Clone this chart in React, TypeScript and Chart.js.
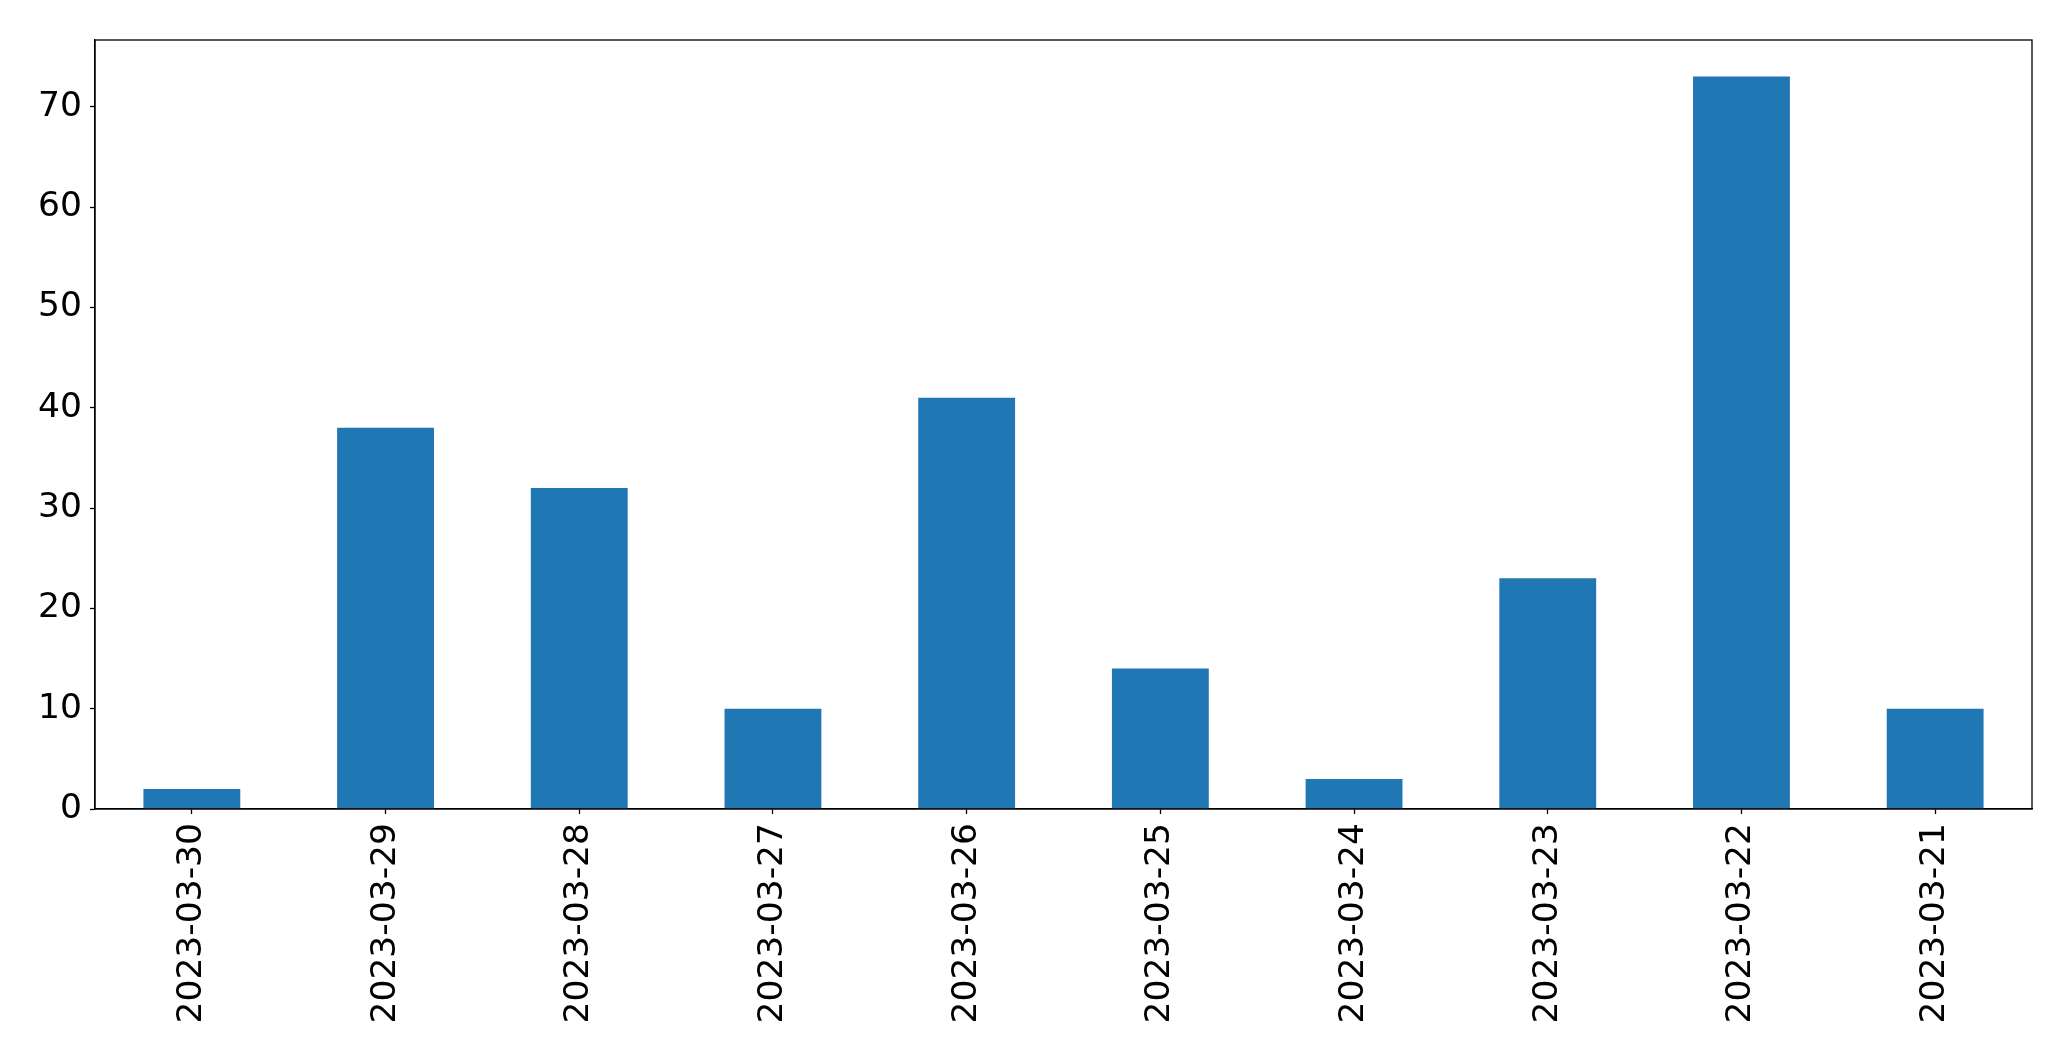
import React, { useEffect, useRef } from "react";
import { Chart, registerables } from "chart.js";

Chart.register(...registerables);

const categories = [
  "2023-03-30",
  "2023-03-29",
  "2023-03-28",
  "2023-03-27",
  "2023-03-26",
  "2023-03-25",
  "2023-03-24",
  "2023-03-23",
  "2023-03-22",
  "2023-03-21",
];
const counts = [2, 38, 32, 10, 41, 14, 3, 23, 73, 10];
const yTickValues = [0, 10, 20, 30, 40, 50, 60, 70];
const yMax = 76.65;

const W = 2071;
const H = 1061;

const framePlugin = {
  id: "frame",
  afterDatasetsDraw(chart: any) {
    const { ctx, chartArea } = chart;
    ctx.save();
    ctx.strokeStyle = "#000";
    ctx.lineWidth = 1.3;
    ctx.strokeRect(chartArea.left, chartArea.top, chartArea.right - chartArea.left, chartArea.bottom - chartArea.top);
    ctx.restore();
  },
};

export default function App() {
  const ref = useRef<HTMLCanvasElement | null>(null);
  useEffect(() => {
    document.body.style.margin = "0";
    const canvas = ref.current!;
    const font = { family: "'DejaVu Sans', sans-serif", size: 34.5 };
    const chart = new Chart(canvas, {
      type: "bar",
      data: {
        labels: categories,
        datasets: [
          {
            data: counts,
            backgroundColor: "#1f77b4",
            borderWidth: 0,
            categoryPercentage: 1,
            barPercentage: 0.5,
          },
        ],
      },
      options: {
        responsive: false,
        animation: false,
        devicePixelRatio: 1,
        layout: { padding: { left: 0, top: 40, right: 39, bottom: 0 } },
        plugins: { legend: { display: false }, tooltip: { enabled: false } },
        scales: {
          x: {
            grid: { display: true, offset: false, drawOnChartArea: false, drawTicks: true, tickLength: 5, tickColor: "#000", tickWidth: 1.3 },
            border: { display: true, color: "#000", width: 1.3 },
            ticks: { color: "#000", font, maxRotation: 90, minRotation: 90, padding: 9, autoSkip: false },
            afterFit: (scale: any) => {
              scale.height = 252;
            },
          },
          y: {
            min: 0,
            max: yMax,
            grid: { display: true, drawOnChartArea: false, drawTicks: true, tickLength: 5, tickColor: "#000", tickWidth: 1.3 },
            border: { display: true, color: "#000", width: 1.3 },
            ticks: { color: "#000", font, padding: 8 },
            afterBuildTicks: (scale: any) => {
              scale.ticks = yTickValues.map((v) => ({ value: v }));
            },
            afterFit: (scale: any) => {
              scale.width = 95;
            },
          },
        },
      },
      plugins: [framePlugin],
    });
    return () => chart.destroy();
  }, []);
  return (
    <div style={{ position: "fixed", left: 0, top: 0, width: W, height: H, background: "#fff" }}>
      <canvas ref={ref} width={W} height={H} style={{ width: W, height: H, display: "block" }} />
    </div>
  );
}
